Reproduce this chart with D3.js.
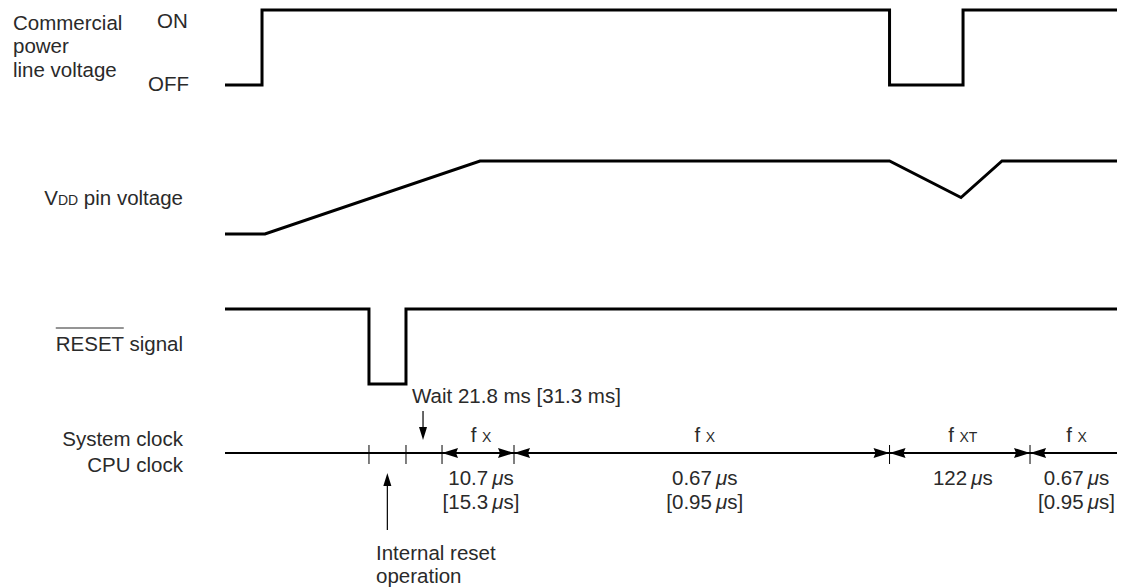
<!DOCTYPE html>
<html>
<head>
<meta charset="utf-8">
<script src="https://cdn.jsdelivr.net/npm/d3@7"></script>
<style>
  html, body { margin: 0; padding: 0; background: #fff; }
  svg text { font-family: "Liberation Sans", Arial, sans-serif; font-size: 20.5px; fill: #2a2a2a; }
</style>
</head>
<body>
<svg id="chart" width="1126" height="588"></svg>
<script>
// ---- data (time in arbitrary units 0..100, level 0..1) ----
const powerTimes  = [0, 4.15, 74.5, 82.74, 100];
const powerLevels = [0, 1, 0, 1, 1];
const vddTimes  = [0, 4.48, 28.59, 74.5, 82.51, 87.11, 100];
const vddLevels = [0, 0, 1, 1, 0.5, 1, 1];
const resetTimes  = [0, 16.14, 20.29, 100];
const resetLevels = [1, 0, 1, 1];
const clockTicks = [16.14, 20.29, 24.33, 32.40, 74.5, 90.25];
const segStart = [24.33, 32.40, 74.5, 90.25];
const segEnd   = [32.40, 74.5, 90.25, 100];
const segClock = ["X", "X", "XT", "X"];
const segPeriod = ["10.7", "0.67", "122", "0.67"];
const segPeriodAlt = ["15.3", "0.95", null, "0.95"];
const waitTime = 22.2;
const internalResetTime = 18.2;

const svg = d3.select("#chart");
const x = d3.scaleLinear().domain([0, 100]).range([225, 1117]);
const yPower = d3.scaleLinear().domain([0, 1]).range([85, 10]);
const yVdd = d3.scaleLinear().domain([0, 1]).range([234, 161]);
const yReset = d3.scaleLinear().domain([0, 1]).range([384, 309]);
const clockY = 453;

function drawSignal(times, levels, y, curve) {
  const pts = times.map((t, i) => [t, levels[i]]);
  svg.append("path")
    .attr("d", d3.line().x(d => x(d[0])).y(d => y(d[1])).curve(curve)(pts))
    .attr("fill", "none").attr("stroke", "#000").attr("stroke-width", 3)
    .attr("stroke-linejoin", "miter").attr("stroke-linecap", "butt");
}
drawSignal(powerTimes, powerLevels, yPower, d3.curveStepAfter);
drawSignal(vddTimes, vddLevels, yVdd, d3.curveLinear);
drawSignal(resetTimes, resetLevels, yReset, d3.curveStepAfter);

// ---- left labels ----
const t = (s, xx, yy, anchor) => svg.append("text").attr("x", xx).attr("y", yy)
  .attr("text-anchor", anchor || "start").text(s);
t("Commercial", 13, 30); t("power", 13, 53); t("line voltage", 13, 77);
t("ON", 157, 28); t("OFF", 148, 91);

const vdd = svg.append("text").attr("x", 183).attr("y", 205).attr("text-anchor", "end");
vdd.append("tspan").text("V");
vdd.append("tspan").style("font-size", "14px").text("DD");
vdd.append("tspan").text(" pin voltage");

const rs = svg.append("text").attr("x", 183).attr("y", 351).attr("text-anchor", "end").text("RESET signal");
{
  const node = rs.node();
  const s = node.getStartPositionOfChar(0);
  const w = node.getSubStringLength(0, 5);
  svg.append("line").attr("x1", s.x).attr("x2", s.x + w).attr("y1", 328).attr("y2", 328)
    .attr("stroke", "#2a2a2a").attr("stroke-width", 1);
}
t("System clock", 183, 446, "end");
t("CPU clock", 183, 472, "end");

// ---- clock line ----
svg.append("line").attr("x1", x(0)).attr("x2", x(100)).attr("y1", clockY).attr("y2", clockY)
  .attr("stroke", "#000").attr("stroke-width", 1.8);
svg.selectAll(".tick").data(clockTicks).join("line")
  .attr("x1", d => x(d)).attr("x2", d => x(d)).attr("y1", clockY - 8).attr("y2", clockY + 11)
  .attr("stroke", "#000").attr("stroke-width", 1);

function arrowHead(tipX, tipY, dir) { // dir: +1 points right, -1 points left
  const L = 16, h = 5, n = 14;
  return `M${tipX},${tipY} L${tipX - dir * L},${tipY - h} L${tipX - dir * n},${tipY} L${tipX - dir * L},${tipY + h} Z`;
}
segStart.forEach((s, i) => {
  svg.append("path").attr("d", arrowHead(x(s), clockY, -1)).attr("fill", "#000");
  if (i < segStart.length - 1)
    svg.append("path").attr("d", arrowHead(x(segEnd[i]), clockY, 1)).attr("fill", "#000");
  const cx = (x(s) + x(segEnd[i])) / 2 + 3;
  const ft = svg.append("text").attr("x", cx).attr("y", 442).attr("text-anchor", "middle");
  ft.append("tspan").text("f ");
  ft.append("tspan").style("font-size", "14px").text(segClock[i]);
  const p = svg.append("text").attr("x", cx).attr("y", 485).attr("text-anchor", "middle");
  p.append("tspan").text(segPeriod[i] + "\u2009");
  p.append("tspan").style("font-style", "italic").text("\u03bc");
  p.append("tspan").text("s");
  if (segPeriodAlt[i]) {
    const q = svg.append("text").attr("x", cx).attr("y", 509).attr("text-anchor", "middle");
    q.append("tspan").text("[" + segPeriodAlt[i] + "\u2009");
    q.append("tspan").style("font-style", "italic").text("\u03bc");
    q.append("tspan").text("s]");
  }
});

// ---- annotations ----
t("Wait 21.8 ms [31.3 ms]", 412, 403);
const wx = x(waitTime);
svg.append("line").attr("x1", wx).attr("x2", wx).attr("y1", 411).attr("y2", 430).attr("stroke", "#000").attr("stroke-width", 1.2);
svg.append("path").attr("d", `M${wx},440 L${wx - 4},427 L${wx + 4},427 Z`).attr("fill", "#000");

const ix = x(internalResetTime);
svg.append("line").attr("x1", ix).attr("x2", ix).attr("y1", 530).attr("y2", 483).attr("stroke", "#000").attr("stroke-width", 1.2);
svg.append("path").attr("d", `M${ix},473 L${ix - 4},486 L${ix + 4},486 Z`).attr("fill", "#000");
t("Internal reset", 376, 560);
t("operation", 376, 583);
</script>
</body>
</html>
